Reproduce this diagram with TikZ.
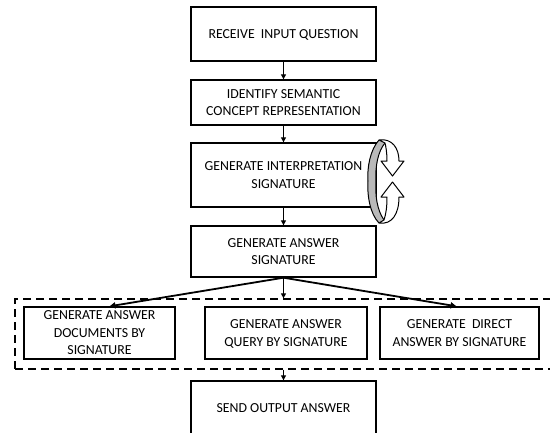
\documentclass[tikz,border=0pt]{standalone}
\usepackage{fontspec}
\setmainfont{Carlito}
\usetikzlibrary{arrows.meta}
\begin{document}
\begin{tikzpicture}[x=1pt,y=-1pt,
  stepbox/.style={draw=black,line width=1.4pt,fill=white,align=center,inner sep=2pt,
    font=\fontsize{13.8}{17.5}\selectfont,text depth=0pt},
  flow/.style={line width=1.2pt,-{Triangle[length=5pt,width=5pt]}},
  branch/.style={line width=1.8pt,-{Triangle[length=6pt,width=6pt]}},
  groupframe/.style={draw=black,line width=1.3pt,dash pattern=on 8pt off 5pt},
  ribbon/.style={draw=black,line width=1pt,line join=round}]
\path[use as bounding box,clip] (0,0) rectangle (550,432);

% main column of steps
\node[stepbox,minimum width=185pt,minimum height=54pt] (b1) at (283.5,34)
  {RECEIVE\ \ INPUT QUESTION};
\node[stepbox,minimum width=185pt,minimum height=45pt] (b2) at (283.5,102.5)
  {IDENTIFY SEMANTIC\\CONCEPT REPRESENTATION};
\node[stepbox,minimum width=185pt,minimum height=64pt] (b3) at (283.5,175)
  {GENERATE INTERPRETATION\\SIGNATURE};
\node[stepbox,minimum width=185pt,minimum height=51pt] (b4) at (283.5,251.5)
  {GENERATE ANSWER\\SIGNATURE};

% dashed group of alternative outputs
\node[groupframe,minimum width=545pt,minimum height=70pt,inner sep=0pt] (grp) at (287.5,334) {};
\node[stepbox,minimum width=151pt,minimum height=52pt] (lbox) at (99.5,333)
  {GENERATE ANSWER\\DOCUMENTS BY\\SIGNATURE};
\node[stepbox,minimum width=162pt,minimum height=52pt] (mbox) at (286,333)
  {GENERATE ANSWER\\QUERY BY SIGNATURE};
\node[stepbox,minimum width=159pt,minimum height=52pt] (rbox) at (459.5,333)
  {GENERATE\ \ DIRECT\\ANSWER BY SIGNATURE};

\node[stepbox,minimum width=185pt,minimum height=54pt] (send) at (283.5,408)
  {SEND OUTPUT ANSWER};

% connectors
\draw[flow] (b1) -- (b2);
\draw[flow] (b2) -- (b3);
\draw[flow] (b3) -- (b4);
\coordinate (gin) at (b4.south |- grp.north);
\coordinate (gout) at (b4.south |- grp.south);
\draw[flow] (b4.south) -- (gin);
\draw[branch] (b4.south) -- ([xshift=10pt]lbox.north);
\draw[branch] (b4.south) -- ([xshift=-3pt]rbox.north);
\draw[flow] (gout) -- (send.north);

% loop symbol beside the interpretation step
\fill[gray!55] (379,140) .. controls (370,150) and (367,168) .. (368,181)
  .. controls (367,195) and (370,214) .. (379,223) -- (384,220)
  .. controls (377,210) and (375,195) .. (376,181)
  .. controls (375,167) and (378,151) .. (385,143) -- cycle;
\draw[ribbon] (379,140) .. controls (370,150) and (367,168) .. (368,181)
  .. controls (367,195) and (370,214) .. (379,223);
\draw[ribbon] (384,220) .. controls (377,210) and (375,195) .. (376,181)
  .. controls (375,167) and (378,151) .. (385,143);
\draw[ribbon,fill=white] (379,140) .. controls (392,138) and (399,148) .. (399,161)
  -- (404,161) -- (392.5,176) -- (381,161) -- (387,161)
  .. controls (387,153) and (386,147) .. (385,143) -- cycle;
\draw[ribbon,fill=white] (379,223) .. controls (392,225) and (399,214) .. (399,197)
  -- (404,197) -- (392.5,182) -- (381,197) -- (387,197)
  .. controls (387,207) and (386,214) .. (384,220) -- cycle;
\end{tikzpicture}
\end{document}
